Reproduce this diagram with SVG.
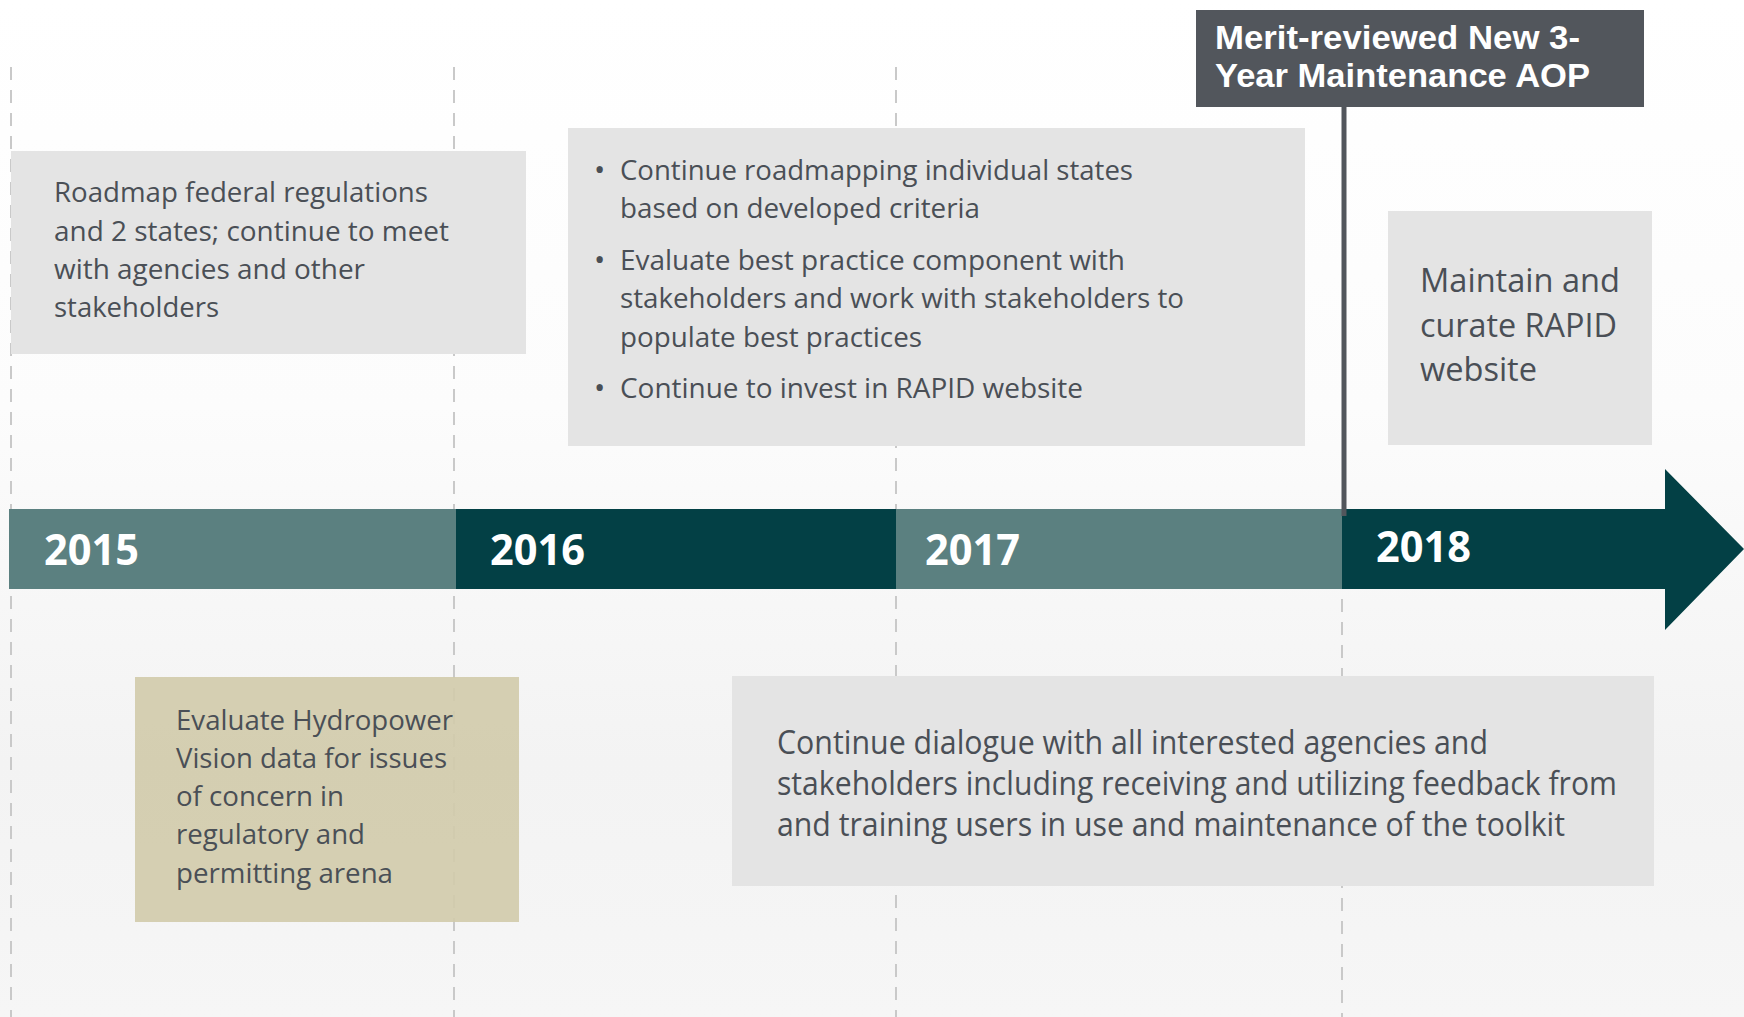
<svg xmlns="http://www.w3.org/2000/svg" width="1744" height="1017" viewBox="0 0 1744 1017">
  <defs>
    <style>
      .box { fill: #e4e4e4; }
      .tan { fill: #d1cbab; fill-opacity: 0.92; }
      .txt { font-family: "Open Sans", "Liberation Sans", sans-serif; fill: #4a4f56; font-size: 28px; }
      .big { font-size: 33px; }
      .bul { font-size: 30px; }
      .yr { font-family: "Open Sans", "Liberation Sans", sans-serif; font-weight: bold; fill: #ffffff; font-size: 43px; }
      .merit { font-family: "Liberation Sans", Arial, sans-serif; font-weight: bold; fill: #ffffff; font-size: 33px; }
      .dash { stroke: #c9c9c9; stroke-width: 2; stroke-dasharray: 13 10; fill: none; }
    </style>
    <linearGradient id="bg" x1="0" y1="0" x2="0" y2="1">
      <stop offset="0" stop-color="#ffffff"/>
      <stop offset="0.4" stop-color="#fcfcfc"/>
      <stop offset="0.75" stop-color="#f3f3f3"/>
      <stop offset="1" stop-color="#f6f6f6"/>
    </linearGradient>
  </defs>

  <rect x="0" y="0" width="1744" height="1017" fill="url(#bg)"/>

  <g id="gridlines">
    <line class="dash" x1="11" y1="67" x2="11" y2="1017"/>
    <line class="dash" x1="454" y1="67" x2="454" y2="1017"/>
    <line class="dash" x1="896" y1="67" x2="896" y2="1017"/>
    <line class="dash" x1="1342" y1="530" x2="1342" y2="1017"/>
  </g>

  <g id="timeline">
    <rect x="9" y="509" width="448" height="80" fill="#5b8080"/>
    <rect x="456" y="509" width="441" height="80" fill="#034045"/>
    <rect x="896" y="509" width="447" height="80" fill="#5b8080"/>
    <polygon points="1342,509 1665,509 1665,469 1744,549 1665,630 1665,589 1342,589" fill="#034045"/>
    <text class="yr" x="44" y="565" textLength="95" lengthAdjust="spacingAndGlyphs">2015</text>
    <text class="yr" x="490" y="565" textLength="95" lengthAdjust="spacingAndGlyphs">2016</text>
    <text class="yr" x="925" y="565" textLength="95" lengthAdjust="spacingAndGlyphs">2017</text>
    <text class="yr" x="1376" y="562" textLength="95" lengthAdjust="spacingAndGlyphs">2018</text>
  </g>

  <g id="connectors">
    <line x1="1344" y1="106" x2="1344" y2="516" stroke="#52565c" stroke-width="5"/>
  </g>

  <g id="node-merit">
    <rect x="1196" y="10" width="448" height="97" fill="#52565c"/>
    <text class="merit" x="1215" y="49" textLength="365" lengthAdjust="spacingAndGlyphs">Merit-reviewed New 3-</text>
    <text class="merit" x="1215" y="87" textLength="375" lengthAdjust="spacingAndGlyphs">Year Maintenance AOP</text>
  </g>

  <g id="node-2015-roadmap">
    <rect class="box" x="11" y="151" width="515" height="203"/>
    <text class="txt" x="54" y="202" textLength="374" lengthAdjust="spacingAndGlyphs">Roadmap federal regulations</text>
    <text class="txt" x="54" y="241" textLength="395" lengthAdjust="spacingAndGlyphs">and 2 states; continue to meet</text>
    <text class="txt" x="54" y="279" textLength="311" lengthAdjust="spacingAndGlyphs">with agencies and other</text>
    <text class="txt" x="54" y="317" textLength="165" lengthAdjust="spacingAndGlyphs">stakeholders</text>
  </g>

  <g id="node-2016-bullets">
    <rect class="box" x="568" y="128" width="737" height="318"/>
    <text class="txt bul" x="594" y="180">•</text>
    <text class="txt" x="620" y="180" textLength="513" lengthAdjust="spacingAndGlyphs">Continue roadmapping individual states</text>
    <text class="txt" x="620" y="218" textLength="360" lengthAdjust="spacingAndGlyphs">based on developed criteria</text>
    <text class="txt bul" x="594" y="270">•</text>
    <text class="txt" x="620" y="270" textLength="505" lengthAdjust="spacingAndGlyphs">Evaluate best practice component with</text>
    <text class="txt" x="620" y="308" textLength="564" lengthAdjust="spacingAndGlyphs">stakeholders and work with stakeholders to</text>
    <text class="txt" x="620" y="347" textLength="302" lengthAdjust="spacingAndGlyphs">populate best practices</text>
    <text class="txt bul" x="594" y="398">•</text>
    <text class="txt" x="620" y="398" textLength="463" lengthAdjust="spacingAndGlyphs">Continue to invest in RAPID website</text>
  </g>

  <g id="node-2018-maintain">
    <rect class="box" x="1388" y="211" width="264" height="234"/>
    <text class="txt big" x="1420" y="292" textLength="200" lengthAdjust="spacingAndGlyphs">Maintain and</text>
    <text class="txt big" x="1420" y="337" textLength="197" lengthAdjust="spacingAndGlyphs">curate RAPID</text>
    <text class="txt big" x="1420" y="381" textLength="117" lengthAdjust="spacingAndGlyphs">website</text>
  </g>

  <g id="node-hydropower">
    <rect class="tan" x="135" y="677" width="384" height="245"/>
    <text class="txt" x="176" y="730" textLength="277" lengthAdjust="spacingAndGlyphs">Evaluate Hydropower</text>
    <text class="txt" x="176" y="768" textLength="271" lengthAdjust="spacingAndGlyphs">Vision data for issues</text>
    <text class="txt" x="176" y="806" textLength="168" lengthAdjust="spacingAndGlyphs">of concern in</text>
    <text class="txt" x="176" y="844" textLength="189" lengthAdjust="spacingAndGlyphs">regulatory and</text>
    <text class="txt" x="176" y="883" textLength="217" lengthAdjust="spacingAndGlyphs">permitting arena</text>
  </g>

  <g id="node-dialogue">
    <rect class="box" x="732" y="676" width="922" height="210"/>
    <text class="txt big" x="777" y="754" textLength="711" lengthAdjust="spacingAndGlyphs">Continue dialogue with all interested agencies and</text>
    <text class="txt big" x="777" y="795" textLength="840" lengthAdjust="spacingAndGlyphs">stakeholders including receiving and utilizing feedback from</text>
    <text class="txt big" x="777" y="836" textLength="788" lengthAdjust="spacingAndGlyphs">and training users in use and maintenance of the toolkit</text>
  </g>
</svg>
